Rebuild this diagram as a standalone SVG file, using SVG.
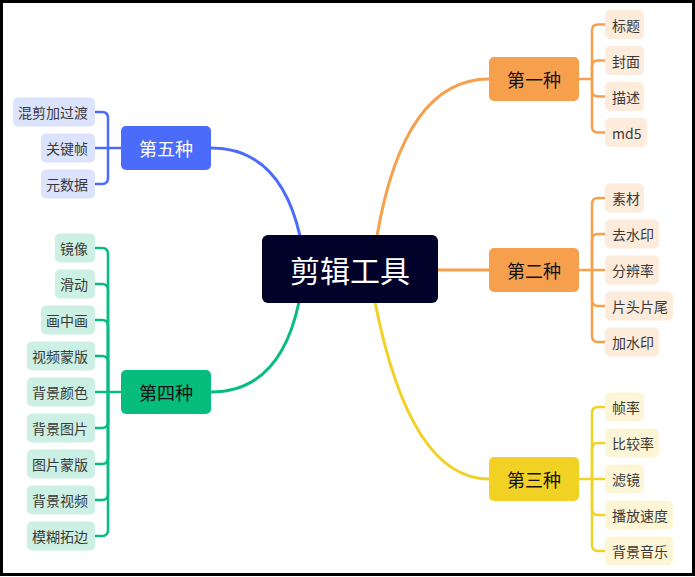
<svg xmlns="http://www.w3.org/2000/svg" width="695" height="577" viewBox="0 0 695 577">
<style>
text{font-family:"Noto Sans CJK SC","Noto Sans",sans-serif;dominant-baseline:central}
.c{font-size:14px;fill:#3a3a3a}
.m{font-size:18px;text-anchor:middle;fill:#111}
.r{text-anchor:start}
.l{text-anchor:end}
.main{stroke-width:3;fill:none;stroke-linecap:round}
.sub{stroke-width:2.5;fill:none}
.o{stroke:#F6A04D}.y{stroke:#F2D125}.b{stroke:#4B6BFB}.g{stroke:#07BD7D}
.fo{fill:#FDEBDB}.fy{fill:#FDF6D6}.fb{fill:#DCE3FD}.fg{fill:#CCF1E4}
</style>
<rect x="0" y="0" width="695" height="577" fill="#fff"/>
<rect x="1.5" y="1.5" width="692" height="573" fill="none" stroke="#000" stroke-width="3"/>
<g id="connectors">
<path class="main o" d="M377 236 Q404 79 489 79"/>
<path class="main o" d="M438 270 H489"/>
<path class="main y" d="M375 302 Q410 479 489 479"/>
<path class="main b" d="M300 236 Q280 148 211 148"/>
<path class="main g" d="M299 302 Q280 392 211 392"/>
<g class="sub o">
<path d="M579 79 H592 V30.5 Q592 24.5 598 24.5 H605"/>
<path d="M592 79 V66.5 Q592 60.5 598 60.5 H605"/>
<path d="M592 79 V90.5 Q592 96.5 598 96.5 H605"/>
<path d="M592 79 V126.5 Q592 132.5 598 132.5 H605"/>
<path d="M579 270 H605"/>
<path d="M592 270 V204 Q592 198 598 198 H605"/>
<path d="M592 270 V240 Q592 234 598 234 H605"/>
<path d="M592 270 V300 Q592 306 598 306 H605"/>
<path d="M592 270 V336 Q592 342 598 342 H605"/>
</g>
<g class="sub y">
<path d="M579 479 H605"/>
<path d="M592 479 V413 Q592 407 598 407 H605"/>
<path d="M592 479 V449 Q592 443 598 443 H605"/>
<path d="M592 479 V509 Q592 515 598 515 H605"/>
<path d="M592 479 V545 Q592 551 598 551 H605"/>
</g>
<g class="sub b">
<path d="M121 148 H95"/>
<path d="M108 148 V118 Q108 112 102 112 H95"/>
<path d="M108 148 V178 Q108 184 102 184 H95"/>
</g>
<g class="sub g">
<path d="M121 392 H95"/>
<path d="M108 392 V254 Q108 248 102 248 H95"/>
<path d="M108 392 V290 Q108 284 102 284 H95"/>
<path d="M108 392 V326 Q108 320 102 320 H95"/>
<path d="M108 392 V362 Q108 356 102 356 H95"/>
<path d="M108 392 V422 Q108 428 102 428 H95"/>
<path d="M108 392 V458 Q108 464 102 464 H95"/>
<path d="M108 392 V494 Q108 500 102 500 H95"/>
<path d="M108 392 V530 Q108 536 102 536 H95"/>
</g>
</g>
<g id="root">
<rect x="262" y="235" width="176" height="68" rx="6" fill="#000229"/>
<text x="350" y="269" font-size="30" fill="#fff" text-anchor="middle">剪辑工具</text>
</g>
<g id="n1">
<rect x="489" y="57" width="90" height="44" rx="5" fill="#F6A04D"/>
<text class="m" x="534" y="79">第一种</text>
</g>
<g id="n1a"><rect class="fo" x="605" y="10" width="39" height="29" rx="5"/><text class="c r" x="612" y="24.5">标题</text></g>
<g id="n1b"><rect class="fo" x="605" y="46" width="39" height="29" rx="5"/><text class="c r" x="612" y="60.5">封面</text></g>
<g id="n1c"><rect class="fo" x="605" y="82" width="39" height="29" rx="5"/><text class="c r" x="612" y="96.5">描述</text></g>
<g id="n1d"><rect class="fo" x="605" y="118" width="42" height="29" rx="5"/><text class="c r" x="612" y="132.5">md5</text></g>
<g id="n2">
<rect x="489" y="248" width="90" height="44" rx="5" fill="#F6A04D"/>
<text class="m" x="534" y="270">第二种</text>
</g>
<g id="n2a"><rect class="fo" x="605" y="183.5" width="39" height="29" rx="5"/><text class="c r" x="612" y="198">素材</text></g>
<g id="n2b"><rect class="fo" x="605" y="219.5" width="54" height="29" rx="5"/><text class="c r" x="612" y="234">去水印</text></g>
<g id="n2c"><rect class="fo" x="605" y="255.5" width="54" height="29" rx="5"/><text class="c r" x="612" y="270">分辨率</text></g>
<g id="n2d"><rect class="fo" x="605" y="291.5" width="68" height="29" rx="5"/><text class="c r" x="612" y="306">片头片尾</text></g>
<g id="n2e"><rect class="fo" x="605" y="327.5" width="54" height="29" rx="5"/><text class="c r" x="612" y="342">加水印</text></g>
<g id="n3">
<rect x="489" y="457" width="90" height="44" rx="5" fill="#F2D125"/>
<text class="m" x="534" y="479">第三种</text>
</g>
<g id="n3a"><rect class="fy" x="605" y="392.5" width="39" height="29" rx="5"/><text class="c r" x="612" y="407">帧率</text></g>
<g id="n3b"><rect class="fy" x="605" y="428.5" width="54" height="29" rx="5"/><text class="c r" x="612" y="443">比较率</text></g>
<g id="n3c"><rect class="fy" x="605" y="464.5" width="39" height="29" rx="5"/><text class="c r" x="612" y="479">滤镜</text></g>
<g id="n3d"><rect class="fy" x="605" y="500.5" width="68" height="29" rx="5"/><text class="c r" x="612" y="515">播放速度</text></g>
<g id="n3e"><rect class="fy" x="605" y="536.5" width="68" height="29" rx="5"/><text class="c r" x="612" y="551">背景音乐</text></g>
<g id="n5">
<rect x="121" y="126" width="90" height="44" rx="5" fill="#4B6BFB"/>
<text class="m" x="166" y="148" fill="#fff" style="fill:#fff">第五种</text>
</g>
<g id="n5a"><rect class="fb" x="13" y="97.5" width="82" height="29" rx="5"/><text class="c l" x="88" y="112">混剪加过渡</text></g>
<g id="n5b"><rect class="fb" x="41" y="133.5" width="54" height="29" rx="5"/><text class="c l" x="88" y="148">关键帧</text></g>
<g id="n5c"><rect class="fb" x="41" y="169.5" width="54" height="29" rx="5"/><text class="c l" x="88" y="184">元数据</text></g>
<g id="n4">
<rect x="121" y="370" width="90" height="44" rx="5" fill="#07BD7D"/>
<text class="m" x="166" y="392">第四种</text>
</g>
<g id="n4a"><rect class="fg" x="55" y="233.5" width="40" height="29" rx="5"/><text class="c l" x="88" y="248">镜像</text></g>
<g id="n4b"><rect class="fg" x="55" y="269.5" width="40" height="29" rx="5"/><text class="c l" x="88" y="284">滑动</text></g>
<g id="n4c"><rect class="fg" x="41" y="305.5" width="54" height="29" rx="5"/><text class="c l" x="88" y="320">画中画</text></g>
<g id="n4d"><rect class="fg" x="27" y="341.5" width="68" height="29" rx="5"/><text class="c l" x="88" y="356">视频蒙版</text></g>
<g id="n4e"><rect class="fg" x="27" y="377.5" width="68" height="29" rx="5"/><text class="c l" x="88" y="392">背景颜色</text></g>
<g id="n4f"><rect class="fg" x="27" y="413.5" width="68" height="29" rx="5"/><text class="c l" x="88" y="428">背景图片</text></g>
<g id="n4g"><rect class="fg" x="27" y="449.5" width="68" height="29" rx="5"/><text class="c l" x="88" y="464">图片蒙版</text></g>
<g id="n4h"><rect class="fg" x="27" y="485.5" width="68" height="29" rx="5"/><text class="c l" x="88" y="500">背景视频</text></g>
<g id="n4i"><rect class="fg" x="27" y="521.5" width="68" height="29" rx="5"/><text class="c l" x="88" y="536">模糊拓边</text></g>
</svg>
